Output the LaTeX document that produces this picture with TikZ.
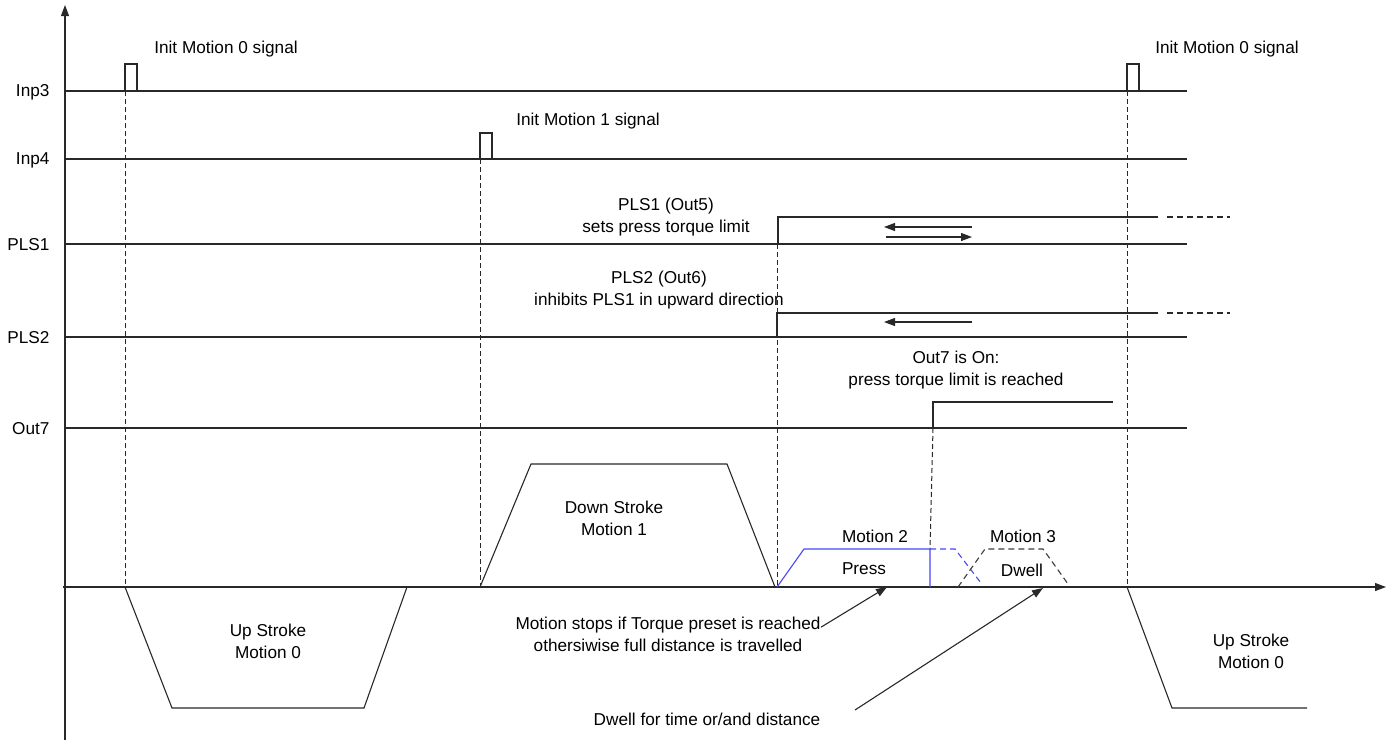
\documentclass[tikz,border=0pt]{standalone}
\usepackage{fontspec}
\setmainfont{Liberation Sans}
\usetikzlibrary{arrows.meta}
\definecolor{axline}{RGB}{40,40,40}
\definecolor{pressblue}{RGB}{70,70,250}
\definecolor{dwellgray}{RGB}{60,60,60}

\tikzset{
    syncline/.style={axline, line width=1pt, dash pattern=on 5pt off 3pt},
    txt/.style={font=\fontsize{17.2}{22}\selectfont, inner sep=0pt, align=center},
}

\begin{document}
\begin{tikzpicture}[x=1pt, y=-1pt, line width=1.1pt, axline, every node/.style={txt, text=black}, >={Triangle[length=11pt,width=8pt]}]
    \useasboundingbox (0,0) rectangle (1390,740);

    % axes
    \coordinate (ybot) at (65,740);
    \coordinate (ytop) at (65,5);
    \coordinate (xleft) at (63,587);
    \coordinate (xright) at (1386,587);
    \draw[->] (ybot) -- (ytop);
    \draw[->] (xleft) -- (xright);

    % signal base lines
    \foreach \y/\sig in {91/Inp3, 159/Inp4, 244/PLS1, 337/PLS2, 428/Out7} {
        \node[anchor=east] (l\sig) at (50,\y+1) {\sig};
        \draw (65,\y) -- (1187,\y);
    }

    % input pulses
    \draw (125,91) -- (125,64) -- (137,64) -- (137,91);
    \draw (1127,91) -- (1127,64) -- (1139,64) -- (1139,91);
    \draw (480,159) -- (480,133) -- (492,133) -- (492,159);
    \node (init0) at (226,49) {Init Motion 0 signal};
    \node (init0b) at (1227,49) {Init Motion 0 signal};
    \node (init1) at (588,121) {Init Motion 1 signal};

    % PLS1 / PLS2 / Out7 outputs
    \draw (778,244) -- (778,217) -- (1158,217);
    \draw[dash pattern=on 6pt off 4pt] (1167,217) -- (1230,217);
    \draw (777,337) -- (777,313) -- (1158,313);
    \draw[dash pattern=on 6pt off 4pt] (1167,313) -- (1230,313);
    \draw (933,428) -- (933,402) -- (1113,402);

    \node (pls1txt) at (666,217) {PLS1 (Out5)\\sets press torque limit};
    \node (pls2txt) at (659,290) {PLS2 (Out6)\\inhibits PLS1 in upward direction};
    \node (out7txt) at (956,370) {Out7 is On:\\press torque limit is reached};

    % direction arrows
    \coordinate (a1r) at (972,227); \coordinate (a1l) at (884,227);
    \coordinate (a2l) at (886,237); \coordinate (a2r) at (972,237);
    \coordinate (a3r) at (972,322); \coordinate (a3l) at (884,322);
    \draw[->] (a1r) -- (a1l);
    \draw[->] (a2l) -- (a2r);
    \draw[->] (a3r) -- (a3l);

    % sync lines
    \draw[syncline] (125,91) -- (125,587);
    \draw[syncline] (480,159) -- (480,587);
    \draw[syncline] (777,244) -- (777,587);
    \draw[syncline] (1127,91) -- (1127,587);
    \draw[syncline] (933,428) -- (930,549);

    % motion profiles
    \draw (125,587) -- (172,708) -- (364,708) -- (407,587);
    \node (up0) at (268,641) {Up Stroke\\Motion 0};
    \draw (480,587) -- (531,464) -- (727,464) -- (775,587);
    \node (down1) at (614,518) {Down Stroke\\Motion 1};
    \draw[pressblue] (777,587) -- (804,549) -- (930,549) -- (930,587);
    \draw[pressblue, dash pattern=on 6pt off 4pt] (930,549) -- (955,549) -- (981,583);
    \draw[dwellgray, dash pattern=on 6pt off 4pt] (958,587) -- (985,549) -- (1043,549) -- (1068,584);
    \node (m2) at (875,536) {Motion 2};
    \node (press) at (864,569) {Press};
    \node (m3) at (1023,536) {Motion 3};
    \node (dwell) at (1022,570) {Dwell};
    \draw (1127,587) -- (1172,708) -- (1307,708);
    \node (up0b) at (1251,651) {Up Stroke\\Motion 0};

    % notes
    \node (stoptxt) at (668,634) {Motion stops if Torque preset is reached\\othersiwise full distance is travelled};
    \coordinate (stoptip) at (887,587);
    \draw[->] (stoptxt.north east) ++(0,11) -- (stoptip);
    \node (dwelltxt) at (707,719) {Dwell for time or/and distance};
    \coordinate (dwellfrom) at (855,710);
    \coordinate (dwelltip) at (1043,588);
    \draw[->] (dwellfrom) -- (dwelltip);
\end{tikzpicture}
\end{document}
